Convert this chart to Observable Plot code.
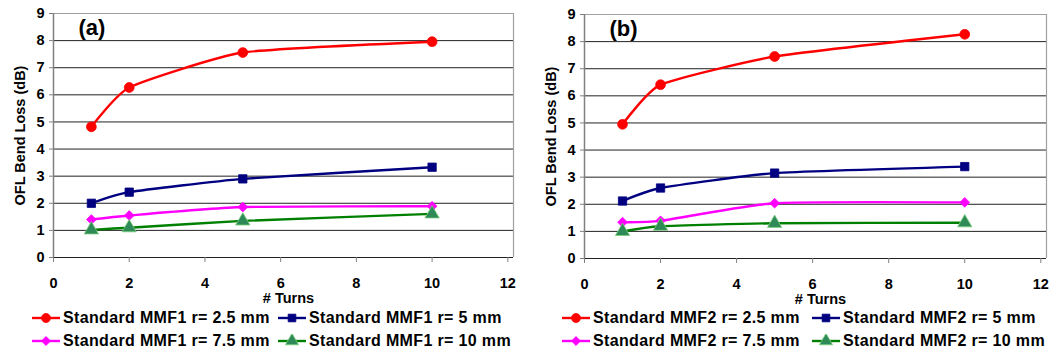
<!DOCTYPE html>
<html>
<head>
<meta charset="utf-8">
<script src="https://cdn.jsdelivr.net/npm/d3@7"></script>
<script src="https://cdn.jsdelivr.net/npm/@observablehq/plot@0.6"></script>
<style>
  html, body { margin: 0; padding: 0; background: #fff; }
  body { width: 1057px; height: 354px; position: relative; overflow: hidden; font-family: "Liberation Sans", Arial, sans-serif; }
  .panel { position: absolute; top: 0; }
  .panel svg.plot { display: block; }
  .legend { position: absolute; left: 0; top: 306px; width: 100%; height: 48px; }
  .item { position: absolute; display: flex; align-items: center; height: 23px; font-weight: bold; font-size: 16px; letter-spacing: 0.35px; color: #000; white-space: nowrap; }
  .item svg { margin-right: 3px; }
</style>
</head>
<body>
<div id="pa" class="panel" style="left:0px;width:528px"></div>
<div id="pb" class="panel" style="left:530px;width:527px"></div>
<script>
// ---- data ----
const turns = [1, 2, 5, 10];
const namesA = ["Standard MMF1 r= 2.5 mm", "Standard MMF1 r= 5 mm", "Standard MMF1 r= 7.5 mm", "Standard MMF1 r= 10 mm"];
const namesB = ["Standard MMF2 r= 2.5 mm", "Standard MMF2 r= 5 mm", "Standard MMF2 r= 7.5 mm", "Standard MMF2 r= 10 mm"];
const a_r25 = [4.82, 6.27, 7.56, 7.96];
const a_r5  = [2.00, 2.41, 2.90, 3.33];
const a_r75 = [1.40, 1.55, 1.86, 1.89];
const a_r10 = [1.02, 1.10, 1.35, 1.61];
const b_r25 = [4.95, 6.41, 7.45, 8.27];
const b_r5  = [2.12, 2.60, 3.15, 3.39];
const b_r75 = [1.34, 1.39, 2.04, 2.07];
const b_r10 = [1.00, 1.19, 1.30, 1.32];
const xTicks = [0, 2, 4, 6, 8, 10, 12];
const yTicks = [0, 1, 2, 3, 4, 5, 6, 7, 8, 9];
const panelLabels = ["(a)", "(b)"];
const xTitle = "# Turns";
const yTitle = "OFL Bend Loss (dB)";

// ---- styles ----
const styles = [
  {stroke: "#FF0000", fill: "#FF0000", symbol: "circle", r: 4.9, mstroke: "#FF0000"},
  {stroke: "#000080", fill: "#000080", symbol: "square", r: 4.7, mstroke: "#000080"},
  {stroke: "#FF00FF", fill: "#FF00FF", symbol: "diamond2", r: 4.4, mstroke: "#FF00FF"},
  {stroke: "#008000", fill: "#2E8B57", symbol: "triangle", r: 5.3, mstroke: "#7ccf7c"}
];

function buildRows(names, arrays) {
  const rows = [];
  names.forEach((n, i) => turns.forEach((t, j) => rows.push({series: n, idx: i, x: t, y: arrays[i][j]})));
  return rows;
}

function makePanel(el, names, arrays, label, opt) {
  const rows = buildRows(names, arrays);
  const xMax = 12.15;
  const marks = [
    Plot.ruleY(yTicks.filter(d => d > 0 && d < 9), {x1: 0, x2: xMax, stroke: "#222", strokeWidth: 1, strokeOpacity: 1}),
    Plot.ruleY([9], {x1: 0, x2: xMax, stroke: "#a0a0a0", strokeWidth: 1.2}),
    Plot.ruleY([0], {x1: 0, x2: xMax, stroke: "#222", strokeWidth: 1}),
    Plot.ruleX([xMax], {y1: 0, y2: 9, stroke: "#a0a0a0", strokeWidth: 1.2}),
    Plot.ruleX([0], {y1: 0, y2: 9, stroke: "#808080", strokeWidth: 1.5}),
    Plot.axisY({ticks: yTicks, tickSize: 4, tickPadding: 5, stroke: "#808080", fontSize: 14.5, fontWeight: "bold", label: null, tickFormat: d => String(d)}),
    Plot.axisX({ticks: xTicks, tickSize: 5, tickPadding: 15, stroke: "#808080", fontSize: 14.5, fontWeight: "bold", label: null, tickFormat: d => String(d)}),
    Plot.text([xTitle], {frameAnchor: "bottom", dy: 41, fontSize: 14.5, fontWeight: "bold", fill: "#000", lineAnchor: "middle", dx: 5}),
    Plot.text([yTitle], {frameAnchor: "left", dx: -33, rotate: -90, textAnchor: "middle", fontSize: 14.5, fontWeight: "bold", fill: "#000", lineAnchor: "middle"}),
    Plot.text([label], {frameAnchor: "top-left", dx: 25, dy: 14, textAnchor: "start", fontSize: 22, fontWeight: "bold", fill: "#000", lineAnchor: "middle"})
  ];
  names.forEach((n, i) => {
    const s = styles[i];
    const data = rows.filter(d => d.idx === i);
    marks.push(Plot.line(data, {x: "x", y: "y", stroke: s.stroke, strokeWidth: 2.4, curve: "cardinal", tension: 0.5}));
  });
  names.forEach((n, i) => {
    const s = styles[i];
    const data = rows.filter(d => d.idx === i);
    marks.push(Plot.dot(data, {x: "x", y: "y", symbol: () => s.symbol, fill: s.fill, stroke: s.mstroke, strokeWidth: 0.8, r: s.r}));
  });
  const chart = Plot.plot({
    width: opt.width,
    height: 306,
    marginLeft: opt.ml,
    marginRight: opt.mr,
    marginTop: opt.mt,
    marginBottom: 306 - opt.bottom,
    style: {fontFamily: "'Liberation Sans', Arial, sans-serif", background: "#fff", color: "#000"},
    x: {domain: [0, xMax], axis: null},
    y: {domain: [0, 9], axis: null},
    symbol: {domain: ["circle", "square", "diamond2", "triangle"], range: ["circle", "square", "diamond2", "triangle"]},
    marks
  });
  chart.classList.add("plot");
  el.appendChild(chart);

  // legend
  const leg = document.createElement("div");
  leg.className = "legend";
  const pos = [[32, 0], [opt.col2, 0], [32, 23], [opt.col2, 23]];
  names.forEach((n, i) => {
    const s = styles[i];
    const it = document.createElement("div");
    it.className = "item";
    it.style.left = pos[i][0] + "px";
    it.style.top = pos[i][1] + "px";
    const sw = d3.create("svg").attr("width", 28).attr("height", 14);
    sw.append("line").attr("x1", 0).attr("x2", 28).attr("y1", 7).attr("y2", 7).attr("stroke", s.stroke).attr("stroke-width", 2.4);
    const symMap = {circle: d3.symbolCircle, square: d3.symbolSquare, diamond2: d3.symbolDiamond2, triangle: d3.symbolTriangle};
    sw.append("path").attr("transform", "translate(14,7)")
      .attr("d", d3.symbol(symMap[s.symbol], Math.PI * s.r * s.r * 0.85)())
      .attr("fill", s.fill).attr("stroke", s.mstroke).attr("stroke-width", 0.8);
    it.appendChild(sw.node());
    const sp = document.createElement("span");
    sp.textContent = n;
    it.appendChild(sp);
    leg.appendChild(it);
  });
  el.appendChild(leg);
}

makePanel(document.getElementById("pa"), namesA, [a_r25, a_r5, a_r75, a_r10], panelLabels[0],
  {width: 528, ml: 53, mr: 15, mt: 13, bottom: 257, col2: 278});
makePanel(document.getElementById("pb"), namesB, [b_r25, b_r5, b_r75, b_r10], panelLabels[1],
  {width: 527, ml: 54, mr: 11, mt: 14, bottom: 258, col2: 282});
</script>
</body>
</html>
